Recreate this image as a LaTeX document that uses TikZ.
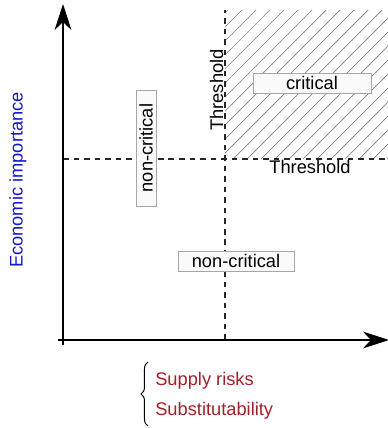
\documentclass[tikz,border=0pt]{standalone}
\usepackage{fontspec}
\setmainfont{Liberation Sans}
\usepackage{tikz}
\usetikzlibrary{arrows.meta,decorations.pathreplacing}
\definecolor{econblue}{RGB}{20,20,210}
\definecolor{riskred}{RGB}{165,30,40}
\tikzset{
  labelbox/.style={draw=gray!70,fill=gray!4,line width=0.5pt,inner sep=2pt,minimum height=0.5cm,font=\fontsize{13}{15}\selectfont},
  thres/.style={dashed,line width=0.8pt,dash pattern=on 4pt off 3.5pt,black!85},
  axis/.style={line width=0.9pt,-{Stealth[length=0.65cm,width=0.42cm,inset=0.2cm]}}
}
\begin{document}
\begin{tikzpicture}
        \useasboundingbox (-1.575,-2.2) rectangle (8.125,8.5);

        \begin{scope}
        \clip (4.05,4.525) rectangle (8.125,8.25);
        \foreach \s in {0,0.35,...,8.5}
            \draw[gray,line width=0.5pt] (4.05+\s-4,4.525) -- ++(4,4);
        \end{scope}

        \draw[thres] (4.05,0) -- (4.05,8.25);
        \draw[thres] (0,4.525) -- (8.125,4.525);

        \draw[axis] (0,-0.12) -- (0,8.4);
        \draw[axis] (-0.12,0) -- (8.15,0);

        \node[labelbox,minimum width=2.95cm] (crit) at (6.225,6.425) {critical};
        \node[labelbox,minimum width=2.9cm] (noncritlow) at (4.325,1.975) {non-critical};
        \node[labelbox,minimum width=2.9cm,rotate=90] (noncritleft) at (2.075,4.8) {non-critical};

        \node[rotate=90,anchor=south,inner sep=1pt,font=\fontsize{13}{15}\selectfont] (thresv) at (4.05,6.25) {Threshold};
        \node[anchor=north,inner sep=1pt,font=\fontsize{13}{15}\selectfont] (thresh) at (6.175,4.525) {Threshold};

        \node[rotate=90,text=econblue,font=\fontsize{13}{15}\selectfont] (econ) at (-1.125,4.0) {Economic importance};

        \coordinate (bracelow) at (2.125,-2.15);
        \coordinate (bracehigh) at (2.125,-0.55);
        \draw[decorate,decoration={brace,amplitude=5pt},line width=0.7pt] (bracelow) -- (bracehigh);
        \node[anchor=west,text=riskred,inner sep=0pt,font=\fontsize{13}{15}\selectfont] (supply) at (2.3,-1.025) {Supply risks};
        \node[anchor=west,text=riskred,inner sep=0pt,font=\fontsize{13}{15}\selectfont] (subst) at (2.3,-1.775) {Substitutability};

\end{tikzpicture}
\end{document}
